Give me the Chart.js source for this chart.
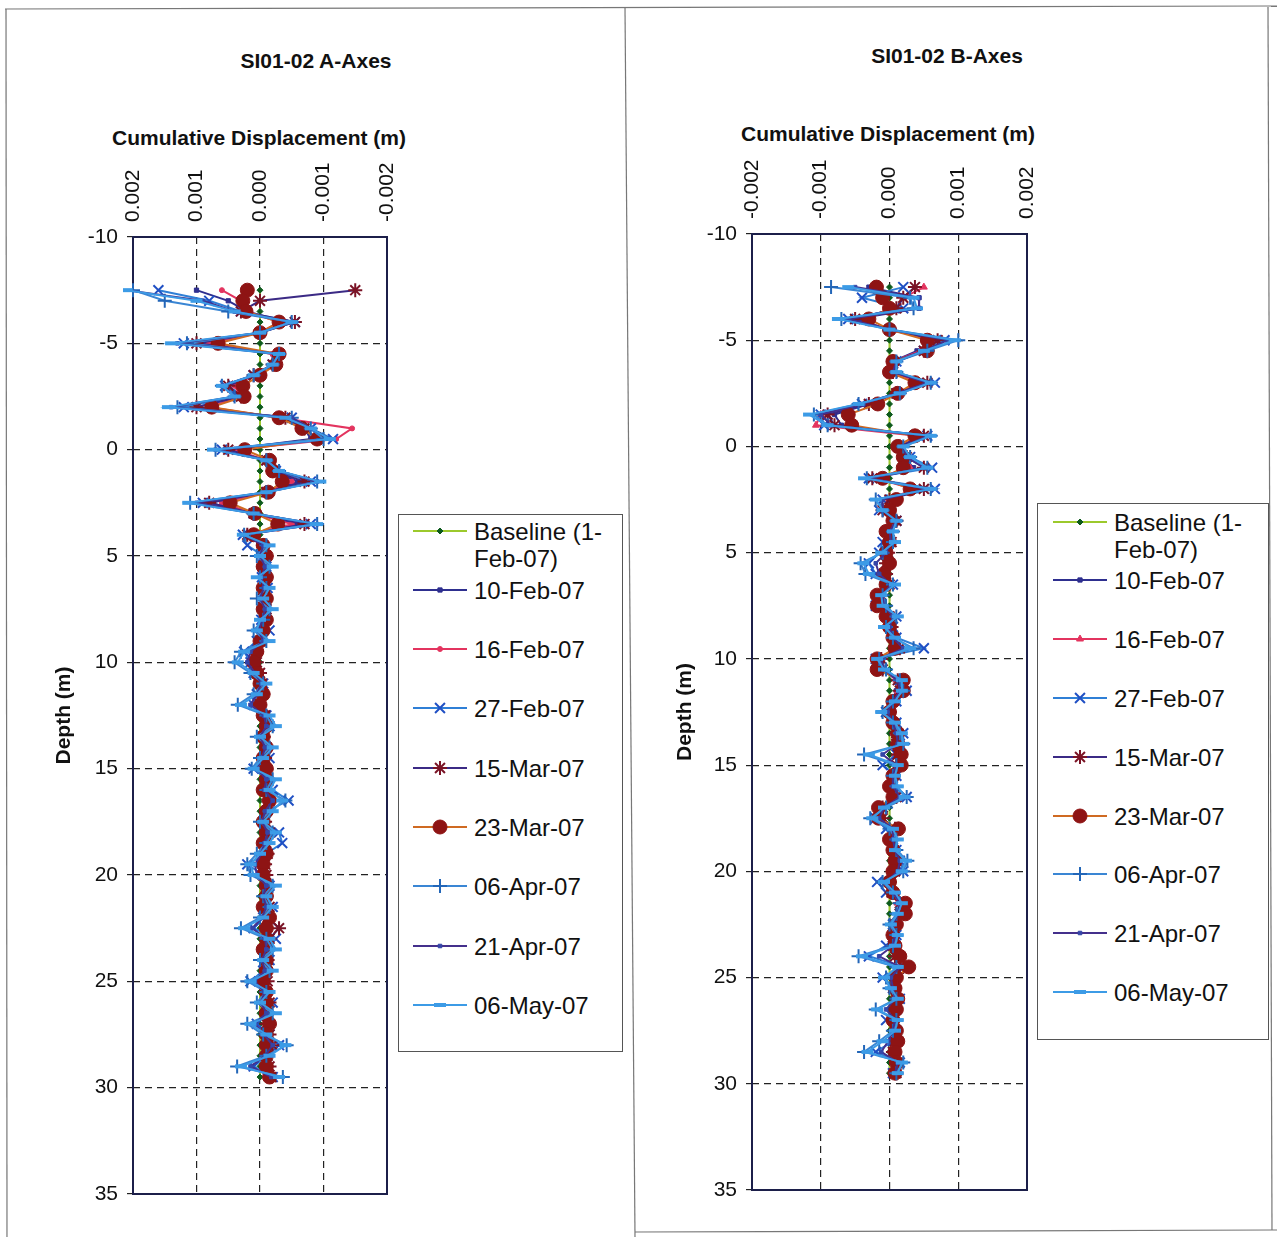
<!DOCTYPE html>
<html>
<head>
<meta charset="utf-8">
<script src="https://cdn.jsdelivr.net/npm/chart.js@4.4.0/dist/chart.umd.min.js"></script>
<style>
  html, body { margin: 0; padding: 0; background: #fff; }
  body { width: 1277px; height: 1237px; position: relative; overflow: hidden;
         font-family: "Liberation Sans", Arial, sans-serif; color: #111; }
  .frame { position: absolute; left: 0; top: 0; }
  .title { position: absolute; font-weight: bold; font-size: 21px; white-space: nowrap;
           transform: translate(-50%, -50%); }
  canvas.plot { position: absolute; }
  .legend { position: absolute; border: 1px solid #555; background: #fff; }
  .legend .item { position: absolute; left: 0; right: 0; height: 27px; }
  .legend .item canvas { position: absolute; top: 3px; }
  .legend .txt { position: absolute; top: 0; font-size: 24px; line-height: 27px; width: 145px; }
</style>
</head>
<body>
<svg class="frame" width="1277" height="1237">
  <g stroke="#777" stroke-width="1.2" fill="none">
    <line x1="5" y1="9" x2="1277" y2="6"/>
    <line x1="6" y1="9" x2="7" y2="1237"/>
    <line x1="625" y1="8" x2="635" y2="1237"/>
    <line x1="1268" y1="7" x2="1272" y2="1230"/>
    <line x1="635" y1="1232" x2="1277" y2="1230"/>
  </g>
</svg>

<div class="title" style="left:316px; top:61px;">SI01-02 A-Axes</div>
<div class="title" style="left:947px; top:56px;">SI01-02 B-Axes</div>
<div class="title" style="left:259px; top:138px;">Cumulative Displacement (m)</div>
<div class="title" style="left:888px; top:134px;">Cumulative Displacement (m)</div>

<canvas class="plot" id="chartA" width="592" height="1120" style="left:20px; top:100px;"></canvas>
<canvas class="plot" id="chartB" width="637" height="1120" style="left:640px; top:96px;"></canvas>

<div class="legend" id="legendA" style="left:398px; top:514px; width:223px; height:536px;"></div>
<div class="legend" id="legendB" style="left:1037px; top:503px; width:230px; height:535px;"></div>

<script>
// depth of each reading (m)
const depths = [
  -7.5, -7, -6.5, -6, -5.5, -5, -4.5, -4, -3.5, -3, -2.5, -2,
  -1.5, -1, -0.5, 0, 0.5, 1, 1.5, 2, 2.5, 3, 3.5, 4,
  4.5, 5, 5.5, 6, 6.5, 7, 7.5, 8, 8.5, 9,
  9.5, 10, 10.5, 11, 11.5, 12, 12.5, 13, 13.5, 14,
  14.5, 15, 15.5, 16, 16.5, 17, 17.5, 18, 18.5, 19,
  19.5, 20, 20.5, 21, 21.5, 22, 22.5, 23, 23.5, 24,
  24.5, 25, 25.5, 26, 26.5, 27, 27.5, 28, 28.5, 29, 29.5
];

const seriesLabels = ["Baseline (1-Feb-07)", "10-Feb-07", "16-Feb-07", "27-Feb-07",
  "15-Mar-07", "23-Mar-07", "06-Apr-07", "21-Apr-07", "06-May-07"];

const xTicks = [-0.002, -0.001, 0, 0.001, 0.002];
const yTicks = [-10, -5, 0, 5, 10, 15, 20, 25, 30, 35];

// cumulative displacement, values in mm
const baseline = [
  0, 0, 0, 0, 0, 0, 0, 0, 0, 0, 0, 0,
  0, 0, 0, 0, 0, 0, 0, 0, 0, 0, 0, 0,
  0, 0, 0, 0, 0, 0, 0, 0, 0, 0,
  0, 0, 0, 0, 0, 0, 0, 0, 0, 0,
  0, 0, 0, 0, 0, 0, 0, 0, 0, 0,
  0, 0, 0, 0, 0, 0, 0, 0, 0, 0,
  0, 0, 0, 0, 0, 0, 0, 0, 0, 0, 0
];

// A-axes
const aFeb10 = [
  1.0, 0.5, 0.2, -0.4, 0.0, 0.9, -0.2, -0.2, 0.1, 0.5, 0.3, 1.0,
  -0.3, -0.7, -0.8, 0.5, -0.1, -0.2, -0.6, -0.1, 0.8, 0.1, -0.6, 0.2,
  -0.05, -0.02, -0.06, -0.03, -0.05, -0.04, -0.02, -0.06, -0.03, 0.0,
  0.06, 0.08, 0.04, 0.02, -0.02, 0.03, -0.04, -0.06, -0.03, -0.05,
  -0.06, -0.04, -0.07, -0.05, -0.1, -0.06, -0.04, -0.08, -0.05, -0.06,
  -0.03, -0.05, -0.08, -0.07, -0.06, -0.1, -0.07, -0.09, -0.06, -0.08,
  -0.09, -0.07, -0.1, -0.08, -0.09, -0.11, -0.09, -0.12, -0.1, -0.09, -0.12
];
const aFeb16 = [
  0.6, 0.3, 0.2, -0.3, 0.0, 0.8, -0.2, -0.2, 0.1, 0.4, 0.3, 0.8,
  -0.3, -1.45, -1.2, 0.4, -0.1, -0.2, -0.5, -0.1, 0.6, 0.1, -0.5, 0.2,
  -0.03, -0.05, -0.04, -0.06, -0.02, -0.05, -0.06, -0.03, -0.05, 0.02,
  0.04, 0.1, 0.05, 0.0, -0.03, 0.05, -0.02, -0.05, -0.06, -0.03,
  -0.05, -0.07, -0.05, -0.08, -0.07, -0.05, -0.07, -0.06, -0.08, -0.05,
  -0.06, -0.04, -0.07, -0.09, -0.08, -0.07, -0.1, -0.08, -0.07, -0.1,
  -0.08, -0.1, -0.09, -0.11, -0.08, -0.1, -0.12, -0.1, -0.11, -0.1, -0.13
];
const aFeb27 = [
  1.6, 0.8, 0.3, -0.55, 0.0, 1.2, -0.3, -0.2, 0.1, 0.55, 0.35, 1.2,
  -0.5, -0.8, -1.15, 0.6, -0.1, -0.25, -0.8, -0.1, 0.9, 0.1, -0.8, 0.27,
  0.2, -0.05, -0.1, -0.03, -0.12, -0.05, -0.1, -0.02, -0.15, 0.05,
  0.25, 0.15, 0.1, -0.05, 0.05, 0.1, -0.1, -0.15, -0.05, -0.1,
  -0.15, 0.1, -0.1, -0.2, -0.45, -0.1, -0.05, -0.3, -0.35, -0.1,
  0.2, -0.05, -0.15, -0.1, -0.2, -0.05, 0.1, -0.25, -0.1, -0.15,
  -0.05, 0.15, -0.1, -0.2, -0.1, 0.05, -0.15, -0.3, -0.1, 0.1, -0.2
];
const aMar15 = [
  -1.5, 0.0, 0.3, -0.55, 0.0, 1.0, -0.3, -0.2, 0.1, 0.5, 0.3, 1.0,
  -0.4, -0.7, -0.9, 0.5, -0.1, -0.2, -0.7, -0.1, 0.8, 0.1, -0.7, 0.2,
  -0.05, -0.1, -0.05, -0.1, -0.08, -0.05, -0.1, -0.06, -0.05, -0.02,
  0.05, 0.05, 0.0, -0.03, -0.05, 0.0, -0.08, -0.1, -0.06, -0.1,
  -0.08, -0.1, -0.12, -0.08, -0.15, -0.1, -0.08, -0.15, -0.1, -0.12,
  -0.08, -0.1, -0.12, -0.1, -0.15, -0.12, -0.3, -0.15, -0.1, -0.12,
  -0.1, -0.12, -0.1, -0.15, -0.12, -0.1, -0.15, -0.2, -0.12, -0.15, -0.18
];
const aMar23 = [
  0.2, 0.27, 0.22, -0.3, 0.0, 0.66, -0.3, -0.25, 0.0, 0.27, 0.25, 0.76,
  -0.3, -0.66, -0.9, 0.24, -0.15, -0.2, -0.35, -0.13, 0.47, 0.08, -0.28, 0.1,
  -0.05, -0.1, -0.05, -0.1, -0.05, -0.1, -0.05, -0.1, -0.05, 0.0,
  0.05, 0.1, 0.05, 0.0, -0.05, 0.0, -0.05, -0.1, -0.05, -0.1,
  -0.05, -0.1, -0.1, -0.05, -0.15, -0.1, -0.05, -0.1, -0.05, -0.1,
  -0.05, -0.05, -0.1, -0.1, -0.05, -0.15, -0.1, -0.1, -0.05, -0.1,
  -0.1, -0.05, -0.1, -0.1, -0.1, -0.15, -0.1, -0.1, -0.1, -0.1, -0.15
];
const aApr06 = [
  2.0, 1.5, 0.5, -0.5, 0.0, 1.15, -0.3, -0.2, 0.1, 0.6, 0.4, 1.3,
  -0.5, -0.8, -1.0, 0.7, -0.1, -0.3, -0.9, -0.1, 1.1, 0.1, -0.9, 0.25,
  -0.1, 0.05, -0.15, 0.0, -0.1, 0.05, -0.15, -0.05, 0.1, -0.1,
  0.3, 0.4, 0.15, -0.05, 0.1, 0.35, -0.1, -0.2, 0.05, -0.15,
  0.0, 0.13, -0.2, -0.1, -0.4, -0.15, 0.0, -0.2, -0.1, 0.05,
  0.2, 0.15, -0.2, -0.05, -0.15, 0.0, 0.3, -0.1, -0.2, 0.0,
  -0.15, 0.2, -0.1, 0.05, -0.2, 0.2, -0.05, -0.42, -0.1, 0.36, -0.36
];
const aApr21 = [
  2.1, 0.9, 0.4, -0.5, 0.0, 1.3, -0.3, -0.2, 0.1, 0.6, 0.4, 1.4,
  -0.5, -0.8, -1.1, 0.7, -0.1, -0.3, -0.9, -0.1, 1.0, 0.1, -0.9, 0.25,
  -0.05, 0.0, -0.08, -0.02, -0.06, 0.0, -0.08, -0.04, 0.02, -0.05,
  0.15, 0.2, 0.08, -0.02, 0.05, 0.15, -0.06, -0.1, 0.0, -0.08,
  -0.03, 0.05, -0.1, -0.07, -0.2, -0.08, -0.03, -0.12, -0.07, -0.02,
  0.08, 0.05, -0.1, -0.05, -0.1, -0.03, 0.12, -0.08, -0.1, -0.03,
  -0.08, 0.08, -0.07, -0.02, -0.1, 0.08, -0.06, -0.2, -0.08, 0.15, -0.18
];
const aMay06 = [
  2.1, 1.0, 0.4, -0.5, 0.0, 1.4, -0.3, -0.2, 0.1, 0.6, 0.4, 1.45,
  -0.4, -0.8, -1.1, 0.74, -0.1, -0.3, -0.95, -0.1, 1.13, 0.1, -0.9, 0.27,
  -0.15, 0.0, -0.2, 0.05, -0.15, -0.05, -0.2, 0.0, 0.05, -0.15,
  0.25, 0.35, 0.1, -0.1, 0.05, 0.3, -0.15, -0.25, 0.0, -0.2,
  -0.05, 0.1, -0.25, -0.15, -0.35, -0.2, -0.05, -0.25, -0.15, 0.0,
  0.15, 0.1, -0.25, -0.1, -0.2, -0.05, 0.25, -0.15, -0.25, -0.05,
  -0.2, 0.15, -0.15, 0.0, -0.25, 0.15, -0.1, -0.4, -0.15, 0.3, -0.3
];

// B-axes
const bFeb10 = [
  -0.3, 0.43, 0.43, -0.5, 0.0, 0.7, 0.4, 0.05, 0.05, 0.5, 0.1, -0.3,
  -0.8, -0.7, 0.45, 0.15, 0.2, 0.35, -0.2, 0.4, 0.0, -0.1, 0.1, 0.0,
  0.02, -0.03, 0.0, -0.05, -0.03, -0.1, -0.08, -0.02, 0.02, 0.05,
  0.1, -0.1, -0.08, 0.12, 0.1, 0.03, 0.0, 0.05, 0.08, 0.08,
  0.1, 0.1, 0.03, 0.02, 0.05, -0.08, -0.1, 0.08, 0.02, 0.05,
  0.06, 0.05, 0.02, 0.04, 0.15, 0.15, 0.08, 0.05, 0.06, 0.1,
  0.18, 0.08, 0.06, 0.1, 0.08, 0.05, 0.08, 0.1, 0.06, 0.08, 0.06
];
const bFeb16 = [
  0.5, 0.2, 0.1, -0.5, 0.0, 0.65, 0.45, 0.05, 0.05, 0.45, 0.1, -0.3,
  -1.0, -1.07, 0.4, 0.1, 0.2, 0.3, -0.2, 0.35, 0.0, -0.1, 0.05, 0.0,
  0.0, -0.05, -0.02, -0.08, -0.05, -0.12, -0.1, -0.03, 0.0, 0.03,
  0.12, -0.12, -0.1, 0.1, 0.12, 0.02, -0.02, 0.03, 0.06, 0.1,
  0.08, 0.12, 0.02, 0.0, 0.06, -0.1, -0.12, 0.06, 0.0, 0.03,
  0.08, 0.04, 0.0, 0.03, 0.12, 0.16, 0.06, 0.03, 0.05, 0.12,
  0.15, 0.06, 0.05, 0.08, 0.06, 0.03, 0.06, 0.08, 0.05, 0.06, 0.05
];
const bFeb27 = [
  0.2, -0.4, 0.2, -0.6, 0.0, 0.8, 0.5, 0.1, 0.05, 0.66, 0.1, -0.4,
  -1.0, -0.95, 0.55, 0.15, 0.3, 0.62, -0.3, 0.66, -0.1, -0.15, 0.1, 0.0,
  -0.1, -0.15, -0.3, -0.2, 0.05, -0.15, -0.2, 0.1, 0.05, 0.1,
  0.5, -0.2, -0.15, 0.15, 0.25, 0.1, -0.05, 0.1, 0.2, 0.15,
  0.1, -0.1, 0.1, 0.05, 0.25, -0.1, -0.2, -0.05, 0.05, 0.1,
  0.15, 0.2, -0.18, -0.05, 0.2, 0.15, 0.05, 0.1, -0.05, -0.3,
  0.2, -0.1, 0.05, 0.15, 0.1, -0.05, 0.1, 0.05, -0.2, 0.15, 0.05
];
const bMar15 = [
  0.37, 0.2, 0.1, -0.5, 0.0, 0.7, 0.5, 0.05, 0.05, 0.55, 0.1, -0.3,
  -0.9, -0.8, 0.5, 0.15, 0.25, 0.5, -0.25, 0.5, 0.0, -0.1, 0.1, 0.0,
  0.03, -0.02, -0.05, -0.05, 0.0, -0.12, -0.12, 0.0, 0.03, 0.06,
  0.15, -0.12, -0.1, 0.12, 0.15, 0.05, 0.0, 0.05, 0.1, 0.1,
  0.12, 0.1, 0.05, 0.03, 0.1, -0.1, -0.1, 0.08, 0.03, 0.06,
  0.1, 0.08, 0.0, 0.03, 0.15, 0.15, 0.08, 0.05, 0.05, 0.08,
  0.2, 0.08, 0.06, 0.1, 0.08, 0.05, 0.08, 0.08, 0.05, 0.12, 0.1
];
const bMar23 = [
  -0.19, -0.1, 0.0, -0.3, 0.0, 0.55, 0.55, 0.05, 0.0, 0.37, 0.12, -0.17,
  -0.6, -0.55, 0.37, 0.12, 0.2, 0.2, -0.1, 0.3, 0.1, 0.0, 0.05, -0.05,
  0.0, -0.05, 0.0, -0.08, -0.05, -0.18, -0.18, -0.05, 0.0, 0.05,
  0.08, -0.18, -0.18, 0.2, 0.2, 0.05, 0.0, 0.05, 0.12, 0.12,
  0.17, 0.17, 0.05, 0.0, 0.05, -0.16, -0.16, 0.13, 0.0, 0.05,
  0.08, 0.05, 0.0, 0.05, 0.23, 0.23, 0.1, 0.05, 0.08, 0.15,
  0.28, 0.1, 0.08, 0.12, 0.1, 0.05, 0.1, 0.12, 0.08, 0.1, 0.08
];
const bApr06 = [
  -0.85, 0.3, 0.35, -0.7, 0.0, 1.0, 0.55, 0.1, 0.1, 0.6, 0.15, -0.45,
  -1.1, -0.9, 0.6, 0.2, 0.3, 0.55, -0.33, 0.6, -0.2, -0.1, 0.1, 0.05,
  0.05, -0.1, -0.42, -0.35, 0.05, -0.1, -0.05, 0.1, -0.05, 0.05,
  0.35, -0.15, -0.05, 0.15, 0.2, 0.05, -0.1, 0.05, 0.15, 0.2,
  -0.37, 0.1, 0.05, 0.1, 0.25, -0.05, -0.28, 0.0, 0.1, 0.1,
  0.26, 0.2, -0.1, 0.05, 0.15, 0.1, 0.0, 0.1, 0.05, -0.45,
  0.1, -0.05, 0.0, 0.1, -0.2, 0.1, 0.05, -0.15, -0.37, 0.2, 0.1
];
const bApr21 = [
  -0.5, 0.43, 0.43, -0.6, 0.0, 0.85, 0.5, 0.1, 0.05, 0.55, 0.1, -0.4,
  -1.0, -0.85, 0.55, 0.2, 0.25, 0.5, -0.3, 0.55, -0.1, -0.1, 0.1, 0.0,
  0.02, -0.05, -0.2, -0.15, 0.02, -0.1, -0.08, 0.05, 0.0, 0.05,
  0.2, -0.12, -0.08, 0.12, 0.15, 0.05, -0.03, 0.05, 0.1, 0.12,
  -0.1, 0.1, 0.05, 0.05, 0.15, -0.08, -0.15, 0.05, 0.05, 0.08,
  0.15, 0.12, -0.05, 0.05, 0.15, 0.12, 0.05, 0.08, 0.05, -0.15,
  0.15, 0.02, 0.05, 0.08, -0.05, 0.08, 0.05, -0.02, -0.12, 0.12, 0.08
];
const bMay06 = [
  -0.6, 0.35, 0.4, -0.75, 0.0, 0.95, 0.5, 0.1, 0.1, 0.6, 0.15, -0.45,
  -1.17, -0.9, 0.6, 0.2, 0.3, 0.55, -0.37, 0.6, -0.2, -0.1, 0.1, 0.05,
  0.08, -0.12, -0.38, -0.3, 0.08, -0.12, -0.1, 0.12, -0.08, 0.08,
  0.3, -0.18, -0.08, 0.18, 0.18, 0.08, -0.12, 0.08, 0.18, 0.2,
  -0.3, 0.12, 0.08, 0.12, 0.22, -0.08, -0.25, 0.05, 0.12, 0.08,
  0.24, 0.18, -0.08, 0.08, 0.18, 0.12, 0.02, 0.12, 0.08, -0.4,
  0.12, -0.08, 0.02, 0.12, -0.18, 0.12, 0.08, -0.1, -0.32, 0.18, 0.12
];

const seriesA = [baseline, aFeb10, aFeb16, aFeb27, aMar15, aMar23, aApr06, aApr21, aMay06];
const seriesB = [baseline, bFeb10, bFeb16, bFeb27, bMar15, bMar23, bApr06, bApr21, bMay06];

// line colour, marker style, marker radius, marker colour, marker stroke width
const seriesStyles = [
  { line: "#9cc92c", point: "rectRot", pr: 3, pc: "#0d5a1c", pw: 1 },
  { line: "#2e2f8f", point: "rect", pr: 3, pc: "#2e2f8f", pw: 1 },
  { line: "#e3345f", point: "circle", pr: 2.5, pc: "#e3345f", pw: 1 },
  { line: "#2f7fd6", point: "crossRot", pr: 7, pc: "#1f4fc4", pw: 2 },
  { line: "#3b2a85", point: "star", pr: 7, pc: "#7a1325", pw: 2 },
  { line: "#cf6a22", point: "circle", pr: 7, pc: "#8e1414", pw: 1 },
  { line: "#3a86d4", point: "cross", pr: 7, pc: "#2366b8", pw: 2 },
  { line: "#44308c", point: "rect", pr: 2.5, pc: "#3546a8", pw: 1 },
  { line: "#3c9be6", point: "line", pr: 6, pc: "#3c9be6", pw: 4 }
];

const fontFamily = '"Liberation Sans", Arial, sans-serif';

const fmtDisp = (v) => {
  const r = Math.round(v * 1000);
  return r === 0 ? "0.000" : (r / 1000).toFixed(3);
};

const plotFrame = {
  id: "plotFrame",
  beforeDatasetsDraw(chart) {
    const { ctx, chartArea: a } = chart;
    ctx.save();
    ctx.strokeStyle = "#1c1f4a";
    ctx.lineWidth = 2;
    ctx.strokeRect(a.left, a.top, a.right - a.left, a.bottom - a.top);
    ctx.restore();
  }
};

function styleFor(i, panel) {
  const st = Object.assign({}, seriesStyles[i]);
  // the B chart uses a triangle for 16-Feb
  if (panel === "B" && i === 2) { st.point = "triangle"; st.pr = 4; }
  return st;
}

function buildDatasets(series, panel) {
  return series.map((vals, i) => {
    const st = styleFor(i, panel);
    return {
      label: seriesLabels[i],
      data: depths.map((d, k) => ({ x: vals[k] / 1000, y: d })),
      showLine: true,
      borderColor: st.line,
      borderWidth: 2,
      pointStyle: st.point,
      pointRadius: st.pr,
      pointBorderColor: st.pc,
      pointBackgroundColor: st.pc,
      pointBorderWidth: st.pw,
      tension: 0,
      clip: 10,
      order: series.length - i
    };
  });
}

function makeChart(id, series, panel, o) {
  const ctx = document.getElementById(id).getContext("2d");
  return new Chart(ctx, {
    type: "scatter",
    data: { datasets: buildDatasets(series, panel) },
    options: {
      responsive: false,
      animation: false,
      events: [],
      layout: { padding: { left: 0, top: 0, right: o.padRight, bottom: 26 } },
      plugins: { legend: { display: false }, tooltip: { enabled: false }, title: { display: false } },
      scales: {
        x: {
          type: "linear",
          position: "top",
          min: -0.002,
          max: 0.002,
          reverse: o.reverse,
          afterBuildTicks: (s) => { s.ticks = xTicks.map((v) => ({ value: v })); },
          afterFit: (s) => { s.height = o.xAxisHeight; },
          ticks: {
            autoSkip: false, minRotation: 90, maxRotation: 90, padding: 15, labelOffset: 25,
            color: "#111", font: { size: 21, family: fontFamily },
            callback: (v) => fmtDisp(v)
          },
          grid: { color: "#222", lineWidth: 1.2, drawTicks: false },
          border: { display: false, dash: [7, 5] },
          title: { display: false }
        },
        y: {
          type: "linear",
          min: -10,
          max: 35,
          reverse: true,
          afterBuildTicks: (s) => { s.ticks = yTicks.map((v) => ({ value: v })); },
          afterFit: (s) => { s.width = o.yAxisWidth; },
          ticks: { autoSkip: false, padding: 9, color: "#111", font: { size: 21, family: fontFamily } },
          grid: { color: "#222", lineWidth: 1.2, tickLength: 6, tickColor: "#222", tickWidth: 1.2 },
          border: { display: false, dash: [7, 5] },
          title: {
            display: true, text: "Depth (m)", color: "#111",
            font: { size: 21, weight: "bold", family: fontFamily },
            padding: { top: o.yTitlePad, bottom: 0 }
          }
        }
      }
    },
    plugins: [plotFrame]
  });
}

function buildLegend(boxId, panel, o) {
  const box = document.getElementById(boxId);
  seriesLabels.forEach((label, i) => {
    const st = styleFor(i, panel);
    const item = document.createElement("div");
    item.className = "item";
    item.style.top = (o.first + i * o.step - 13.5) + "px";
    const cv = document.createElement("canvas");
    cv.width = 54; cv.height = 20;
    cv.style.left = o.sampleLeft + "px";
    const c = cv.getContext("2d");
    c.strokeStyle = st.line; c.lineWidth = 2;
    c.beginPath(); c.moveTo(0, 10); c.lineTo(54, 10); c.stroke();
    c.fillStyle = st.pc; c.strokeStyle = st.pc; c.lineWidth = st.pw;
    if (Chart.helpers && Chart.helpers.drawPoint) {
      Chart.helpers.drawPoint(c, { pointStyle: st.point, radius: st.pr, borderWidth: st.pw, rotation: 0 }, 27, 10);
    } else {
      c.beginPath(); c.arc(27, 10, st.pr, 0, Math.PI * 2); c.fill();
    }
    const txt = document.createElement("div");
    txt.className = "txt";
    txt.style.left = o.textLeft + "px";
    txt.textContent = label;
    item.appendChild(cv);
    item.appendChild(txt);
    box.appendChild(item);
  });
}

makeChart("chartA", seriesA, "A", {
  reverse: true, padRight: 225, xAxisHeight: 137, yAxisWidth: 113, yTitlePad: 32
});
makeChart("chartB", seriesB, "B", {
  reverse: false, padRight: 250, xAxisHeight: 138, yAxisWidth: 112, yTitlePad: 33
});

buildLegend("legendA", "A", { first: 16, step: 59.3, sampleLeft: 14, textLeft: 75 });
buildLegend("legendB", "B", { first: 18, step: 58.8, sampleLeft: 15, textLeft: 76 });
</script>
</body>
</html>
